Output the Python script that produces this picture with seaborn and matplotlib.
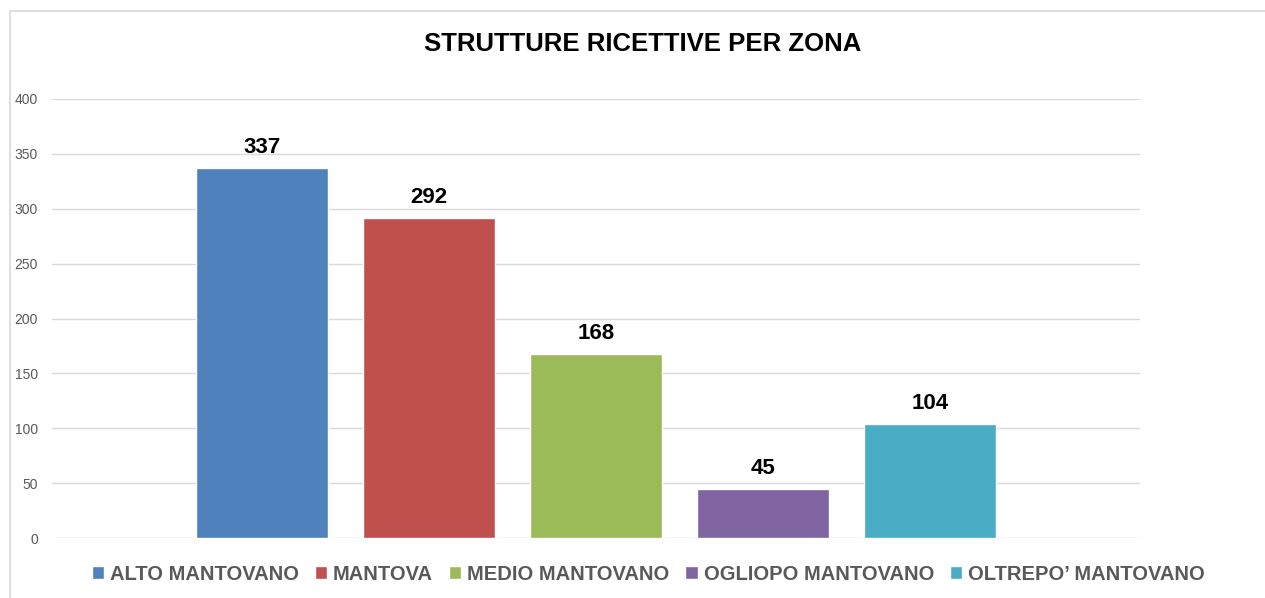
import matplotlib
matplotlib.use('Agg')
import matplotlib.pyplot as plt
import seaborn as sb
import pandas as pd
from matplotlib.patches import Rectangle

# Data
zones = ['ALTO MANTOVANO', 'MANTOVA', 'MEDIO MANTOVANO', 'OGLIOPO MANTOVANO', 'OLTREPO\u2019 MANTOVANO']
counts = [337, 292, 168, 45, 104]
colors = ['#4F81BD', '#C0504D', '#9BBB59', '#8064A2', '#4BACC6']
yticks = [0, 50, 100, 150, 200, 250, 300, 350, 400]

df = pd.DataFrame({'zona': zones, 'strutture': counts})

sb.set_style('white')
plt.rcParams['font.family'] = ['Liberation Sans Narrow', 'Liberation Sans', 'DejaVu Sans']

fig = plt.figure(figsize=(12.65, 5.98), dpi=100)
ax = fig.add_axes([52 / 1265, 1 - 538 / 598, (1140 - 52) / 1265, (538 - 99) / 598])

sb.barplot(data=df, x='zona', y='strutture', hue='zona', order=zones, hue_order=zones,
           palette=colors, width=0.79, dodge=False, legend=True, ax=ax, saturation=1)

# Value labels on top of bars
for cont in ax.containers:
    ax.bar_label(cont, fmt='%d', padding=7, fontsize=16, fontweight='bold', color='black')

ax.set_ylim(0, 400)
ax.set_xlim(-1.255, 5.255)
ax.set_yticks(yticks)
ax.set_yticklabels([str(t) for t in yticks], fontsize=10, color='#595959')
ax.set_xticks([])
ax.set_xlabel('')
ax.set_ylabel('')
ax.grid(axis='y', color='#d9d9d9', linewidth=1)
ax.set_axisbelow(True)
for s in ax.spines.values():
    s.set_visible(False)
ax.tick_params(axis='y', length=0, pad=10)

# Legend under the plot
handles, labels = ax.get_legend_handles_labels()
ax.legend(handles, labels, loc='upper center', bbox_to_anchor=(0.548, -0.02), ncol=5,
          frameon=False, fontsize=14.5, handlelength=0.6, handleheight=0.6,
          handletextpad=0.3, columnspacing=0.8, labelcolor='#595959')
for t in ax.get_legend().get_texts():
    t.set_fontweight('bold')

fig.text(643 / 1265, 1 - 44 / 598, 'STRUTTURE RICETTIVE PER ZONA', ha='center', va='center',
         fontsize=18.5, fontweight='bold', color='black')

# Light outer frame (cropped at right and bottom)
fig.patches.append(Rectangle((10 / 1265, -0.1), 1.2, 1.1 - 11 / 598, transform=fig.transFigure,
                             fill=False, edgecolor='#d9d9d9', linewidth=1.2))

plt.savefig('out.png', dpi=100)
